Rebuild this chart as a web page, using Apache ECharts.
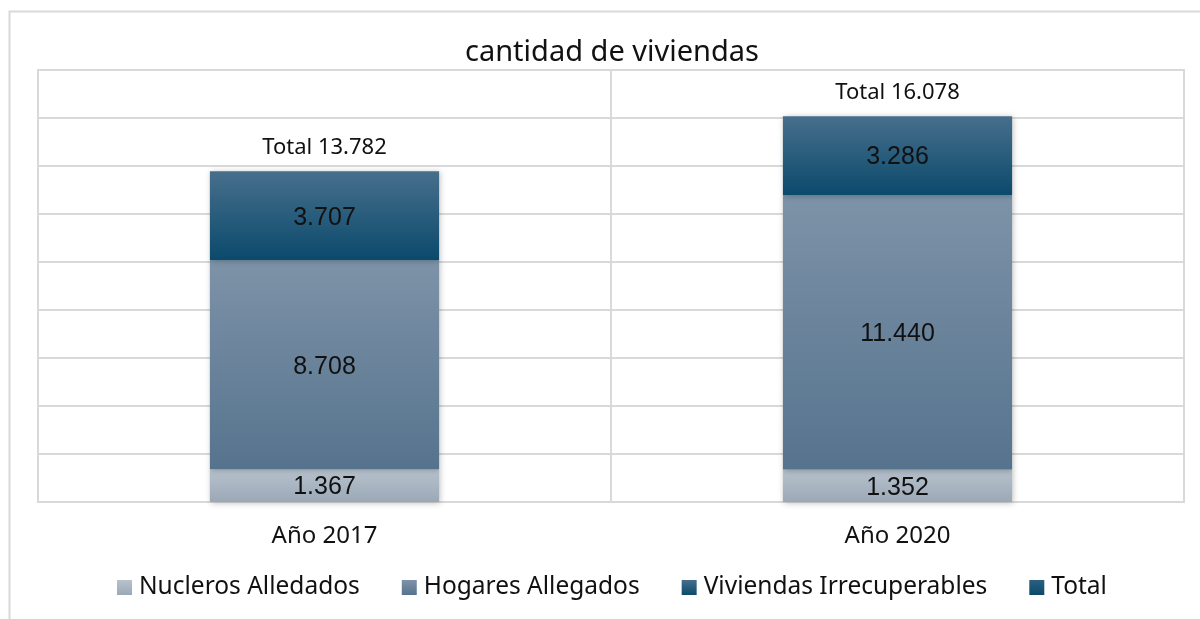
<!DOCTYPE html>
<html>
<head>
<meta charset="utf-8">
<script src="https://cdn.jsdelivr.net/npm/echarts@6/dist/echarts.min.js"></script>
<style>
  html, body { margin: 0; padding: 0; background: #fff; }
  #main { width: 1200px; height: 619px; }
</style>
</head>
<body>
<div id="main"></div>
<script>
// datos
var categorias = ['Año 2017', 'Año 2020'];
var nucleros = [1367, 1352];
var hogares = [8708, 11440];
var irrecuperables = [3707, 3286];
var totales = [13782, 16078];

var fuente = 'Noto Sans';

function fmt(v) {
    return String(v).replace(/\B(?=(\d{3})+(?!\d))/g, '.');
}

function grad(a, b) {
    return new echarts.graphic.LinearGradient(0, 0, 0, 1, [
        { offset: 0, color: a },
        { offset: 1, color: b }
    ]);
}

var sombra = {
    shadowBlur: 6,
    shadowColor: 'rgba(0,0,0,0.25)',
    shadowOffsetX: 1,
    shadowOffsetY: 1
};

var etiqueta = {
    show: true,
    position: 'inside',
    offset: [0, 2],
    color: '#111',
    fontSize: 25,
    fontFamily: 'Liberation Sans',
    formatter: function (p) { return fmt(p.value); }
};

var myChart = echarts.init(document.getElementById('main'));
var option = {
    backgroundColor: '#fff',
    animation: false,
    title: {
        text: 'cantidad de viviendas',
        left: 460,
        top: 33,
        textStyle: { fontSize: 29, fontWeight: 'normal', color: '#111', fontFamily: fuente }
    },
    graphic: [{
        type: 'rect',
        shape: { x: 9.5, y: 11.5, width: 1210, height: 640 },
        style: { fill: null, stroke: '#d9d9d9', lineWidth: 2 }
    }],
    legend: {
        bottom: 14,
        left: 112,
        itemWidth: 15,
        itemHeight: 15,
        itemGap: 42,
        icon: 'rect',
        textStyle: { fontSize: 24.5, color: '#111', fontFamily: fuente, padding: [0, 0, 0, 2] },
        data: ['Nucleros Alledados', 'Hogares Allegados', 'Viviendas Irrecuperables', 'Total']
    },
    grid: {
        left: 38, right: 16, top: 70, bottom: 117,
        show: true, borderColor: '#d9d9d9', borderWidth: 2
    },
    xAxis: {
        type: 'category',
        data: categorias,
        axisLine: { show: false },
        axisTick: { show: false },
        splitLine: { show: true, lineStyle: { color: '#d9d9d9', width: 2 } },
        axisLabel: { fontSize: 24, color: '#111', margin: 22, fontFamily: fuente }
    },
    yAxis: {
        type: 'value',
        min: 0,
        max: 18000,
        interval: 2000,
        axisLabel: { show: false },
        axisLine: { show: false },
        axisTick: { show: false },
        splitLine: { lineStyle: { color: '#d9d9d9', width: 2 } }
    },
    series: [{
        name: 'Nucleros Alledados',
        type: 'bar',
        stack: 'a',
        barWidth: '40%',
        data: nucleros,
        itemStyle: Object.assign({ color: grad('#b7c2cd', '#9ba8b6') }, sombra),
        label: etiqueta
    }, {
        name: 'Hogares Allegados',
        type: 'bar',
        stack: 'a',
        data: hogares,
        itemStyle: Object.assign({ color: grad('#7d93a8', '#56738e') }, sombra),
        label: etiqueta
    }, {
        name: 'Viviendas Irrecuperables',
        type: 'bar',
        stack: 'a',
        data: irrecuperables,
        itemStyle: Object.assign({ color: grad('#476f8c', '#0b4a6c') }, sombra),
        label: etiqueta
    }, {
        name: 'Total',
        type: 'bar',
        stack: 'a',
        data: [0, 0],
        itemStyle: { color: grad('#2c5f80', '#0b4a6c') },
        label: {
            show: true,
            position: 'top',
            distance: 12,
            color: '#111',
            fontSize: 22,
            fontFamily: fuente,
            formatter: function (p) { return 'Total ' + fmt(totales[p.dataIndex]); }
        }
    }]
};
myChart.setOption(option);
</script>
</body>
</html>
